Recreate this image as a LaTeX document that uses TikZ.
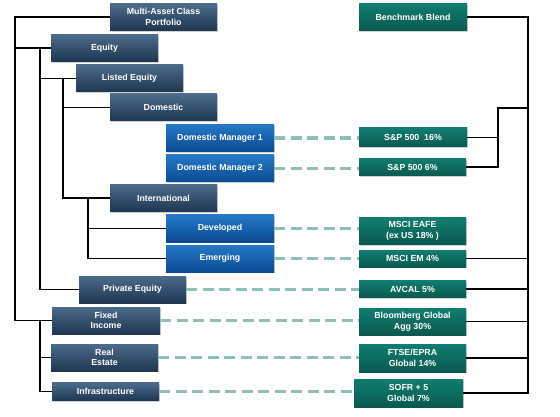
\documentclass[tikz,border=0pt]{standalone}
\usepackage{fontspec}
\setmainfont{Liberation Sans}
\usetikzlibrary{shadows}
\definecolor{navyT}{HTML}{4C6B8B}
\definecolor{navyB}{HTML}{1E3650}
\definecolor{blueT}{HTML}{2479C6}
\definecolor{blueB}{HTML}{0B4A92}
\definecolor{tealT}{HTML}{107D70}
\definecolor{tealB}{HTML}{0A594F}
\definecolor{dashc}{HTML}{8FC0B7}
\tikzset{
  box/.style={rectangle, inner sep=0pt, minimum width=107pt, minimum height=27pt,
    text=white, align=center, font=\bfseries\fontsize{8.8}{10.5}\selectfont,
    drop shadow={opacity=0.35, shadow xshift=1.2pt, shadow yshift=-1.2pt}},
  navy/.style={box, top color=navyT, bottom color=navyB},
  bluebox/.style={box, top color=blueT, bottom color=blueB, minimum width=108pt},
  tealbox/.style={box, top color=tealT, bottom color=tealB},
  tree/.style={draw=black, line width=1.8pt},
  dashlink/.style={draw=dashc, line width=3.6pt, dash pattern=on 11pt off 5.5pt},
}
\begin{document}
\begin{tikzpicture}[x=1pt, y=-1pt]
\useasboundingbox[fill=white] (0,0) rectangle (560,417);
% left (navy) nodes
\node[navy] (mac) at (163.5,17) {Multi-Asset Class\\Portfolio};
\node[navy] (equity) at (104.5,48) {Equity};
\node[navy] (listed) at (129.5,78.5) {Listed Equity};
\node[navy] (domestic) at (163.5,107.5) {Domestic};
\node[navy] (intl) at (163.5,198) {International};
\node[navy] (pe) at (132.5,289.5) {Private Equity};
\node[navy, minimum width=108pt] (fi) at (106,320.5) {Fixed\\Income};
\node[navy] (re) at (104.5,357.5) {Real\\Estate};
\node[navy, minimum height=18pt] (infra) at (105.5,391.5) {Infrastructure};
% blue nodes
\node[bluebox] (dm1) at (220,138) {Domestic Manager 1};
\node[bluebox] (dm2) at (220,168.5) {Domestic Manager 2};
\node[bluebox] (dev) at (220,228.5) {Developed};
\node[bluebox] (emg) at (220,258.5) {Emerging};
% teal nodes
\node[tealbox, minimum width=108pt] (bb) at (413,17) {Benchmark Blend};
\node[tealbox, minimum width=108pt, minimum height=19pt] (sp16) at (413,137.5) {S\&P 500\ \ 16\%};
\node[tealbox, minimum height=17pt] (sp6) at (412.5,167) {S\&P 500 6\%};
\node[tealbox] (eafe) at (412.5,231) {MSCI EAFE\\(ex US 18\% )};
\node[tealbox, minimum height=17pt] (em) at (412.5,258.5) {MSCI EM 4\%};
\node[tealbox, minimum height=17pt] (avcal) at (412.5,289) {AVCAL 5\%};
\node[tealbox] (bloom) at (412.5,321.5) {Bloomberg Global\\Agg 30\%};
\node[tealbox, minimum height=28pt] (ftse) at (412.5,358) {FTSE/EPRA\\Global 14\%};
\node[tealbox, minimum width=109pt, minimum height=28pt] (sofr) at (408.5,393) {SOFR + 5\\Global 7\%};
% tree rails
\coordinate (L1) at (15,0);
\coordinate (L2) at (40,0);
\coordinate (L3) at (63,0);
\coordinate (L4) at (88,0);
\coordinate (R1) at (528,0);
\coordinate (R2) at (498,0);
\coordinate (J) at (528,108);
% left tree
\draw[tree] (mac.west) -| (L1 |- fi.west) -- (fi.west);
\draw[tree] (L1 |- equity.west) -- (equity.west);
\draw[tree] (L2 |- equity.west) -- (L2 |- pe.west) -- (pe.west);
\draw[tree] (L2 |- listed.west) -- (listed.west);
\draw[tree] (L3 |- listed.west) -- (L3 |- intl.west) -- (intl.west);
\draw[tree] (L3 |- domestic.west) -- (domestic.west);
\draw[tree] (L4 |- intl.west) -- (L4 |- emg.west) -- (emg.west);
\draw[tree] (L4 |- dev.west) -- (dev.west);
\draw[tree] (L2 |- fi.west) -- (L2 |- infra.west) -- (infra.west);
\draw[tree] (L2 |- re.west) -- (re.west);
% right tree
\draw[tree] (bb.east) -| (R1 |- sofr.east) -- (sofr.east);
\draw[tree] (J) -| (R2 |- sp6.east) -- (sp6.east);
\draw[tree] (R2 |- sp16.east) -- (sp16.east);
\draw[tree] (em.east) -- (R1 |- em.east);
\draw[tree] (avcal.east) -- (R1 |- avcal.east);
\draw[tree] (bloom.east) -- (R1 |- bloom.east);
\draw[tree] (ftse.east) -- (R1 |- ftse.east);
% dashed links
\draw[dashlink] (dm1.east) -- (dm1.east -| sp16.west);
\draw[dashlink] (dm2.east) -- (dm2.east -| sp6.west);
\draw[dashlink] (dev.east) -- (dev.east -| eafe.west);
\draw[dashlink] (emg.east) -- (emg.east -| em.west);
\draw[dashlink] (pe.east) -- (pe.east -| avcal.west);
\draw[dashlink] (fi.east) -- (fi.east -| bloom.west);
\draw[dashlink] (re.east) -- (re.east -| ftse.west);
\draw[dashlink] (infra.east) -- (infra.east -| sofr.west);
\end{tikzpicture}
\end{document}
